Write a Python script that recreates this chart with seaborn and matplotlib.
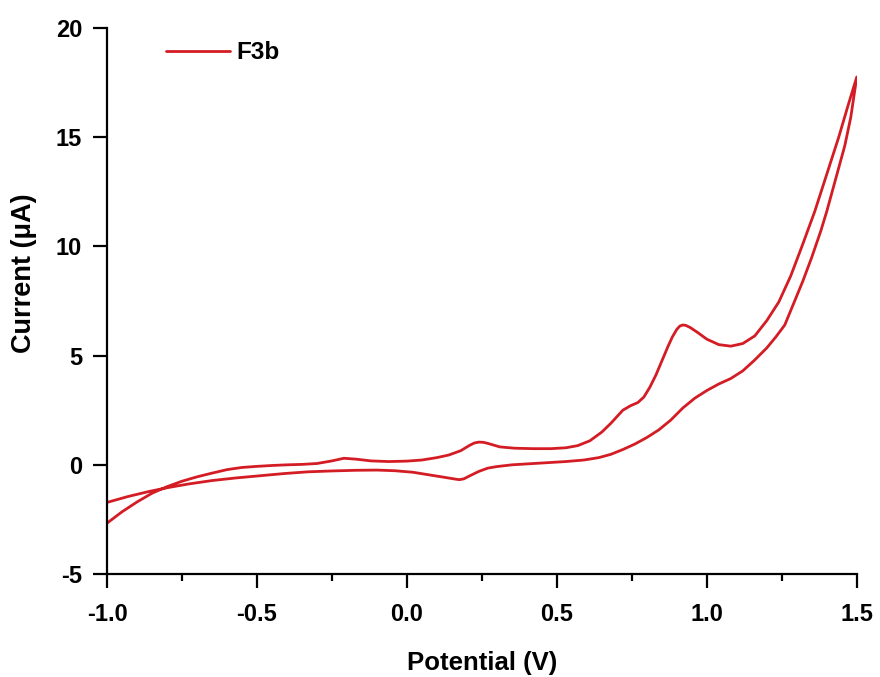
import matplotlib
import pandas as pd
import matplotlib.pyplot as plt
import seaborn as sns
from matplotlib.ticker import MultipleLocator

matplotlib.use('Agg')  # Use a non-interactive backend

# Forward (anodic) sweep, -1.0 V -> 1.5 V
forward_potential = [-1.00, -0.95, -0.90, -0.85, -0.80, -0.75, -0.70, -0.65, -0.60, -0.55,
                     -0.50, -0.45, -0.40, -0.35, -0.30, -0.25, -0.21, -0.17, -0.12, -0.06,
                     0.00, 0.05, 0.10, 0.14, 0.18, 0.21, 0.225, 0.24, 0.255, 0.27, 0.31, 0.36,
                     0.42, 0.48, 0.53, 0.57, 0.61, 0.65, 0.68, 0.70, 0.72, 0.745,
                     0.77, 0.79, 0.81, 0.83, 0.85, 0.87, 0.885, 0.90, 0.91, 0.92, 0.93,
                     0.945, 0.97, 1.00, 1.04, 1.08, 1.12, 1.16, 1.20, 1.24, 1.28, 1.32,
                     1.36, 1.40, 1.44, 1.47]
forward_current = [-2.67, -2.15, -1.70, -1.30, -1.00, -0.75, -0.55, -0.38, -0.22, -0.12,
                   -0.07, -0.03, 0.00, 0.02, 0.06, 0.18, 0.30, 0.26, 0.18, 0.15,
                   0.17, 0.22, 0.33, 0.45, 0.65, 0.90, 1.00, 1.04, 1.03, 0.98, 0.82, 0.76,
                   0.74, 0.74, 0.78, 0.88, 1.10, 1.50, 1.90, 2.20, 2.50, 2.70,
                   2.85, 3.10, 3.55, 4.10, 4.75, 5.40, 5.85, 6.20, 6.35, 6.40, 6.38,
                   6.28, 6.05, 5.75, 5.50, 5.43, 5.55, 5.90, 6.60, 7.45, 8.65, 10.1,
                   11.6, 13.3, 15.0, 16.4]

# Reverse (cathodic) sweep, 1.5 V -> -1.0 V
reverse_potential = [1.50, 1.48, 1.46, 1.44, 1.42, 1.40, 1.38, 1.35, 1.32, 1.29,
                     1.26, 1.23, 1.20, 1.16, 1.12, 1.08, 1.04, 1.00, 0.96, 0.92,
                     0.88, 0.84, 0.80, 0.76, 0.72, 0.68, 0.64, 0.59, 0.53, 0.47,
                     0.41, 0.35, 0.30, 0.27, 0.24, 0.21, 0.19, 0.175, 0.16, 0.12, 0.07,
                     0.02, -0.04, -0.10, -0.17, -0.25, -0.33, -0.41, -0.49, -0.57, -0.65,
                     -0.73, -0.80, -0.86, -0.93, -1.00]
reverse_current = [17.75, 15.9, 14.6, 13.6, 12.6, 11.6, 10.7, 9.5, 8.4, 7.4,
                   6.4, 5.85, 5.35, 4.8, 4.3, 3.95, 3.7, 3.4, 3.05, 2.6,
                   2.05, 1.6, 1.25, 0.95, 0.70, 0.48, 0.33, 0.22, 0.15, 0.10,
                   0.05, 0.00, -0.08, -0.15, -0.30, -0.50, -0.64, -0.68, -0.65, -0.56, -0.45,
                   -0.34, -0.27, -0.24, -0.25, -0.28, -0.32, -0.40, -0.50, -0.60, -0.72,
                   -0.88, -1.05, -1.22, -1.45, -1.72]

x_ticks = [-1.0, -0.5, 0.0, 0.5, 1.0, 1.5]
y_ticks = [-5, 0, 5, 10, 15, 20]

# Build one closed CV loop
df = pd.DataFrame({
    'Potential': forward_potential + reverse_potential,
    'Current': forward_current + reverse_current,
    'Sample': 'F3b',
})

sns.set_theme(style="ticks")
plt.rcParams['font.family'] = ['Liberation Sans', 'DejaVu Sans']
plt.rcParams['font.weight'] = 'bold'
plt.rcParams['text.color'] = 'black'
plt.rcParams['axes.labelcolor'] = 'black'

fig = plt.figure(figsize=(8.8, 6.77), dpi=100)
ax = fig.add_axes([0.1216, 0.152, 0.852, 0.807])

sns.lineplot(data=df, x='Potential', y='Current', hue='Sample', sort=False,
             estimator=None, palette=['#d41c24'], linewidth=2.0, ax=ax)
for ln in ax.lines:
    ln.set_solid_joinstyle('round')

ax.set_xlim(-1.0, 1.5)
ax.set_ylim(-5, 20)
ax.set_xticks(x_ticks)
ax.set_xticklabels([f'{t:.1f}' for t in x_ticks])
ax.set_yticks(y_ticks)
ax.set_yticklabels([str(t) for t in y_ticks])
ax.xaxis.set_minor_locator(MultipleLocator(0.25))

ax.tick_params(axis='both', which='major', direction='out', length=10, width=1.6,
               labelsize=17, pad=10.5, color='black', labelcolor='black')
ax.tick_params(axis='y', which='major', pad=8)
ax.tick_params(axis='x', which='minor', direction='out', length=5, width=1.6, color='black')
for lab in ax.get_xticklabels() + ax.get_yticklabels():
    lab.set_fontweight('bold')

sns.despine(ax=ax)
for side in ['left', 'bottom']:
    ax.spines[side].set_linewidth(1.6)
    ax.spines[side].set_color('black')

ax.set_xlabel('Potential (V)', fontsize=18.5, fontweight='bold')
ax.set_ylabel('Current (\u03bcA)', fontsize=19.5, fontweight='bold')
ax.xaxis.set_label_coords(0.5, -0.141)
ax.yaxis.set_label_coords(-0.094, 0.55)

leg = ax.legend(loc='upper left', bbox_to_anchor=(0.05, 1.015), frameon=False,
                handlelength=2.6, handletextpad=0.3, fontsize=17.5)
for txt in leg.get_texts():
    txt.set_fontweight('bold')
for h in leg.get_lines():
    h.set_linewidth(2.0)

plt.savefig('out.png', dpi=100)
plt.close()
